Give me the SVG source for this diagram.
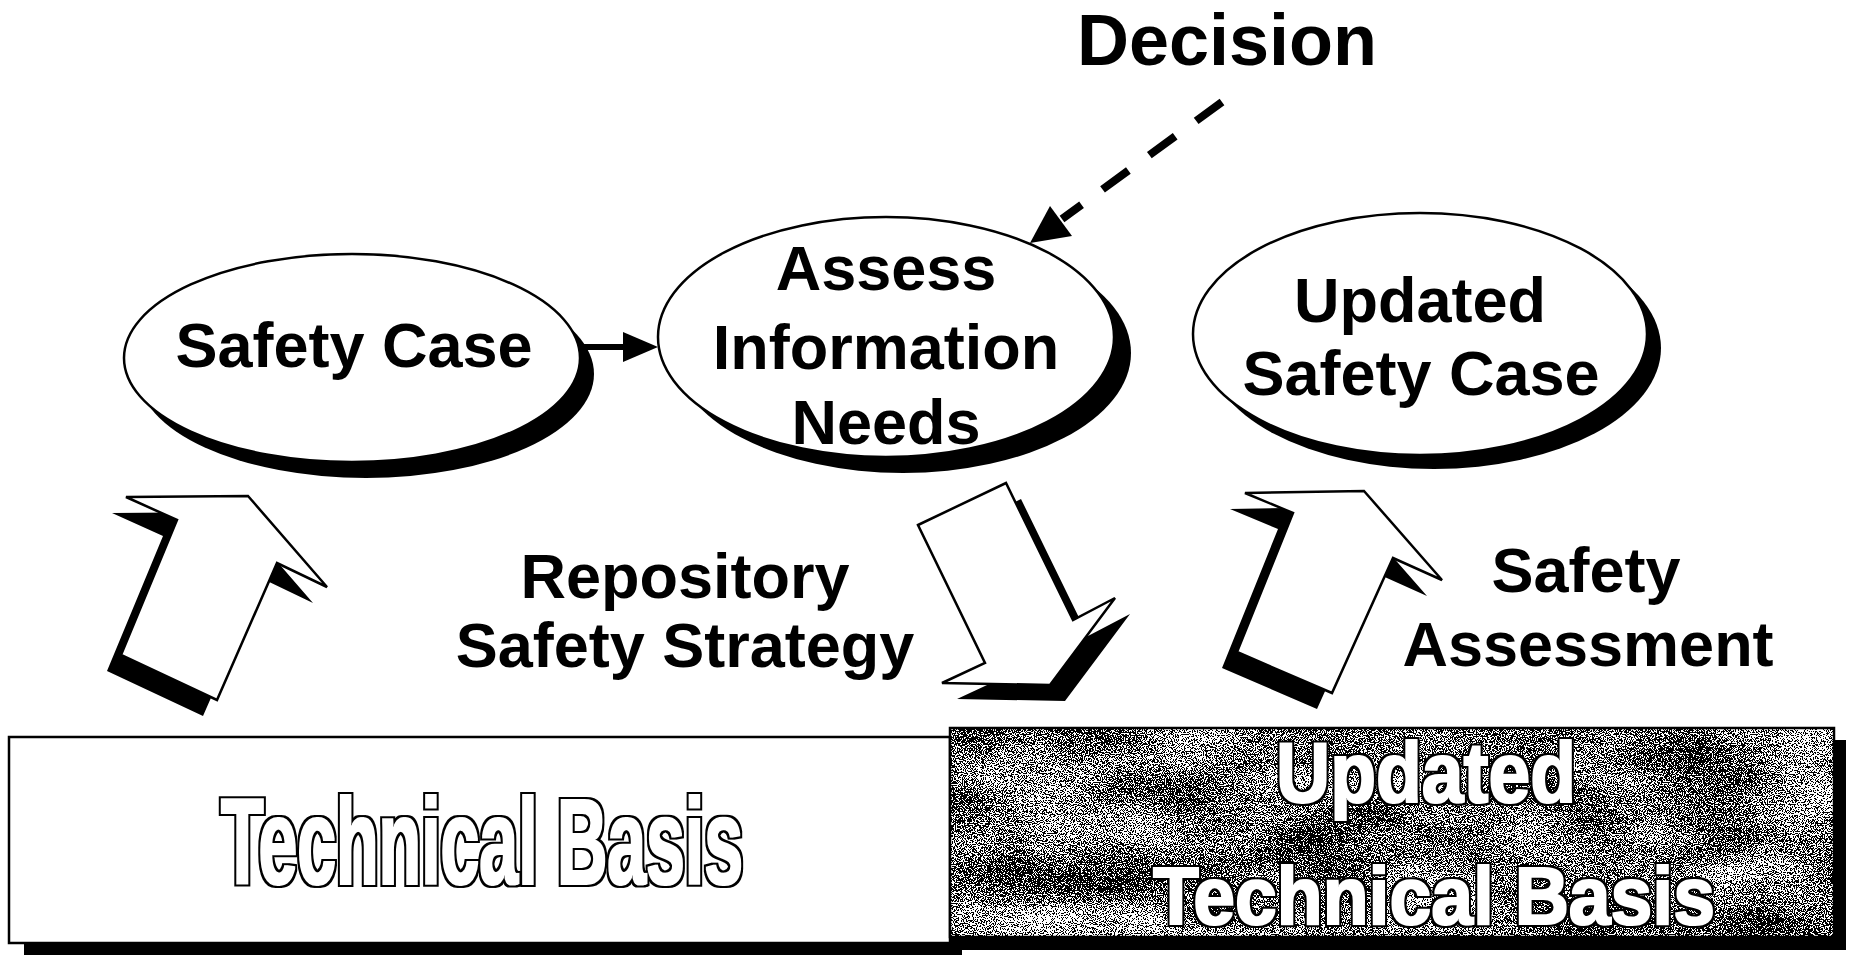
<svg xmlns="http://www.w3.org/2000/svg" width="1855" height="955" viewBox="0 0 1855 955">
<defs>
<style>
.lbl{font-family:"Liberation Sans",Arial,Helvetica,sans-serif;font-weight:bold;fill:#000;text-anchor:middle;}
.oval{fill:#fff;stroke:#000;stroke-width:2.5;}
.shadow{fill:#000;stroke:none;}
.barrow{fill:#fff;stroke:#000;stroke-width:2.5;stroke-linejoin:miter;}
.heavy{font-family:"Liberation Sans",Arial,Helvetica,sans-serif;font-weight:bold;text-anchor:middle;fill:#000;}
</style>
<filter id="grain" x="0" y="0" width="1" height="1" filterUnits="objectBoundingBox" color-interpolation-filters="sRGB">
  <feTurbulence type="fractalNoise" baseFrequency="0.9" numOctaves="2" seed="7" result="fine"/>
  <feColorMatrix in="fine" type="matrix" values="1 0 0 0 0  1 0 0 0 0  1 0 0 0 0  0 0 0 0 1" result="fineG"/>
  <feTurbulence type="fractalNoise" baseFrequency="0.008 0.02" numOctaves="2" seed="4" result="coarse"/>
  <feColorMatrix in="coarse" type="matrix" values="1 0 0 0 0  1 0 0 0 0  1 0 0 0 0  0 0 0 0 1" result="coarseG"/>
  <feComposite in="fineG" in2="coarseG" operator="arithmetic" k1="0" k2="1" k3="0.3" k4="-0.17" result="mix"/>
  <feComponentTransfer in="mix">
    <feFuncR type="discrete" tableValues="0 1"/>
    <feFuncG type="discrete" tableValues="0 1"/>
    <feFuncB type="discrete" tableValues="0 1"/>
    <feFuncA type="linear" slope="0" intercept="1"/>
  </feComponentTransfer>
</filter>
<filter id="outlineHeavy" x="-5%" y="-20%" width="110%" height="140%" color-interpolation-filters="sRGB">
  <feMorphology in="SourceAlpha" operator="dilate" radius="1 0.5" result="inner"/>
  <feMorphology in="SourceAlpha" operator="dilate" radius="3 2.5" result="outer"/>
  <feFlood flood-color="#000" result="blk"/>
  <feComposite in="blk" in2="outer" operator="in" result="ring"/>
  <feFlood flood-color="#fff" result="wht"/>
  <feComposite in="wht" in2="inner" operator="in" result="body"/>
  <feMerge><feMergeNode in="ring"/><feMergeNode in="body"/></feMerge>
</filter>
<filter id="outlineWhite" x="-5%" y="-20%" width="110%" height="140%" color-interpolation-filters="sRGB">
  <feMorphology in="SourceAlpha" operator="dilate" radius="1 0.5" result="inner"/>
  <feMorphology in="SourceAlpha" operator="dilate" radius="3 2.5" result="outer"/>
  <feFlood flood-color="#000" result="blk"/>
  <feComposite in="blk" in2="outer" operator="in" result="ring"/>
  <feFlood flood-color="#fff" result="wht"/>
  <feComposite in="wht" in2="inner" operator="in" result="body"/>
  <feMerge><feMergeNode in="ring"/><feMergeNode in="body"/></feMerge>
</filter>
</defs>
<rect x="0" y="0" width="1855" height="955" fill="#fff"/>

<!-- Bottom boxes -->
<g id="technical-basis">
  <rect class="shadow" x="24" y="749" width="938" height="206"/>
  <rect x="9" y="737" width="941" height="206" fill="#fff" stroke="#000" stroke-width="2.5"/>
  <text class="heavy" x="482" y="884" font-size="123" textLength="522" lengthAdjust="spacingAndGlyphs" filter="url(#outlineHeavy)">Technical Basis</text>
</g>
<g id="updated-technical-basis">
  <rect class="shadow" x="962" y="740" width="884" height="210"/>
  <rect x="950" y="728" width="884" height="209" fill="#888" filter="url(#grain)"/>
  <rect x="950" y="728" width="884" height="209" fill="none" stroke="#000" stroke-width="2.5"/>
  <text class="heavy" x="1426" y="802" font-size="86" textLength="300" lengthAdjust="spacingAndGlyphs" filter="url(#outlineWhite)">Updated</text>
  <text class="heavy" x="1434" y="924" font-size="82" textLength="562" lengthAdjust="spacingAndGlyphs" filter="url(#outlineWhite)">Technical Basis</text>
</g>

<!-- Ellipse nodes -->
<g id="safety-case">
  <ellipse class="shadow" cx="366" cy="374" rx="228" ry="104"/>
  <ellipse class="oval" cx="352" cy="358" rx="228" ry="104"/>
  <text class="lbl" x="354" y="367" font-size="63">Safety Case</text>
</g>
<g id="assess-information-needs">
  <ellipse class="shadow" cx="903" cy="353" rx="228" ry="120"/>
  <ellipse class="oval" cx="886" cy="337" rx="228" ry="120"/>
  <text class="lbl" x="886" y="290" font-size="63">Assess</text>
  <text class="lbl" x="886" y="369" font-size="63">Information</text>
  <text class="lbl" x="886" y="444" font-size="63">Needs</text>
</g>
<g id="updated-safety-case">
  <ellipse class="shadow" cx="1434" cy="348" rx="227" ry="121"/>
  <ellipse class="oval" cx="1420" cy="334" rx="227" ry="121"/>
  <text class="lbl" x="1420" y="322" font-size="63">Updated</text>
  <text class="lbl" x="1421" y="395" font-size="63">Safety Case</text>
</g>
<g id="decision">
  <text class="lbl" x="1227" y="65" font-size="72">Decision</text>
</g>
<g id="repository-safety-strategy">
  <text class="lbl" x="685" y="598" font-size="63">Repository</text>
  <text class="lbl" x="685" y="667" font-size="63">Safety Strategy</text>
</g>
<g id="safety-assessment">
  <text class="lbl" x="1586" y="592" font-size="63">Safety</text>
  <text class="lbl" x="1588" y="666" font-size="63">Assessment</text>
</g>

<!-- Block arrows -->
<g id="arrow-up-left">
  <polygon class="shadow" points="234,512 313,603 263,579 203,716 107,671 163,536 112,513"/>
  <polygon class="barrow" points="248,496 327,587 277,563 217,700 121,655 177,520 126,497"/>
</g>
<g id="arrow-down-middle">
  <polygon class="shadow" points="933,541 1021,499 1088,636 1130,614 1065,701 957,699 1000,679"/>
  <polygon class="barrow" points="918,525 1006,483 1073,620 1115,598 1050,685 942,683 985,663"/>
</g>
<g id="arrow-up-right">
  <polygon class="shadow" points="1349,507 1427,596 1378,574 1317,709 1222,668 1278,529 1230,509"/>
  <polygon class="barrow" points="1364,491 1442,580 1393,558 1332,693 1237,652 1293,513 1245,493"/>
</g>

<!-- Connectors -->
<g id="connectors">
  <line x1="580" y1="347" x2="626" y2="347" stroke="#000" stroke-width="6"/>
  <polygon points="658,347 623,332 623,362" fill="#000"/>
  <line x1="1222" y1="102" x2="1062" y2="219" stroke="#000" stroke-width="8" stroke-dasharray="32 26"/>
  <polygon points="1030,243 1050,206 1072,236" fill="#000"/>
</g>
</svg>
